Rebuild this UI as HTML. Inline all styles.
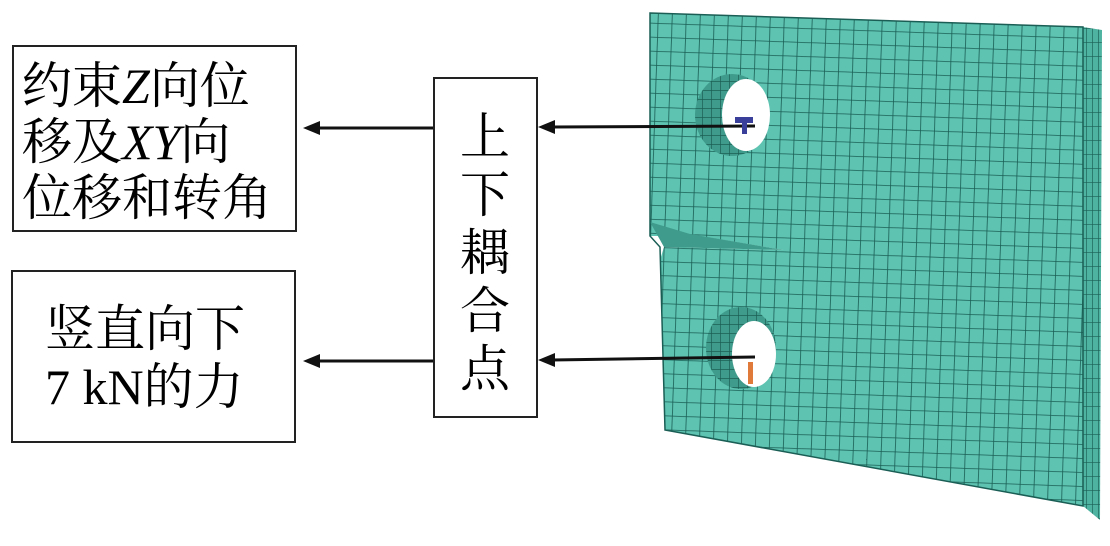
<!DOCTYPE html>
<html><head><meta charset="utf-8"><style>
body{margin:0;background:#fff;width:1110px;height:546px;overflow:hidden;position:relative;font-family:"Liberation Serif","Noto Serif CJK SC",serif;}
.box{position:absolute;border:2px solid #222;box-sizing:border-box;background:#fff;color:#111;}
.t{position:absolute;white-space:nowrap;}
</style></head><body>
<div class="box" style="left:12px;top:45px;width:285px;height:187px;"></div>
<div class="t" style="left:22px;top:58px;font-size:50px;line-height:56px;">约束<i>Z</i>向位<br>移及<i>XY</i>向<br>位移和转角</div>
<div class="box" style="left:11px;top:270px;width:285px;height:173px;"></div>
<div class="t" style="left:45px;top:300px;font-size:50px;line-height:58px;">竖直向下<br>7 kN的力</div>
<div class="box" style="left:433px;top:77px;width:105px;height:341px;"></div>
<div class="t" style="left:460px;top:108px;font-size:50px;line-height:58px;width:52px;white-space:normal;">上下耦合点</div>
<svg width="1110" height="546" style="position:absolute;left:0;top:0">
<defs>
<pattern id="m" width="14" height="14" patternUnits="userSpaceOnUse" patternTransform="rotate(2)">
<rect width="14" height="14" fill="#5ec3b1"/>
<path d="M0 0H14M0 0V14" stroke="#1a5e55" stroke-width="1.6"/>
</pattern>
<pattern id="f" width="9" height="9" patternUnits="userSpaceOnUse">
<rect width="9" height="9" fill="#3f9c8c"/>
<path d="M0 0H9M0 0V9" stroke="#1a5e55" stroke-width="1.4"/>
</pattern>
<pattern id="s" width="6" height="14" patternUnits="userSpaceOnUse">
<rect width="6" height="14" fill="#4fb3a2"/>
<path d="M0 0H6M0 0V14" stroke="#1a5e55" stroke-width="1.3"/>
</pattern>
</defs>
<polygon points="1083,27 1102,30 1100,520 1083,506" fill="url(#s)"/>
<polygon points="650,13 1083,27 1083,506 665,430 660,260 664,247 783,250 700,236 650,236" fill="url(#m)"/>
<polygon points="650,222 690,234 783,250 664,247" fill="#3f9c8c"/>
<polygon points="650,13 1083,27 1083,506 665,430 660,247 650,236" fill="none" stroke="#1a5e55" stroke-width="1.5"/>
<ellipse cx="732" cy="115" rx="37" ry="41" fill="url(#f)"/>
<ellipse cx="746" cy="115" rx="24" ry="36" fill="#fff"/>
<ellipse cx="741" cy="348" rx="35" ry="41" fill="url(#f)"/>
<ellipse cx="754" cy="354" rx="22" ry="33" fill="#fff"/>
<g stroke="#111" stroke-width="3">
<line x1="318" y1="128" x2="433" y2="128"/>
<line x1="318" y1="361" x2="433" y2="361"/>
<line x1="552" y1="127" x2="755" y2="126"/>
<line x1="552" y1="360" x2="755" y2="357"/>
</g>
<g fill="#111">
<polygon points="303,128 320,121 320,135"/>
<polygon points="303,361 320,354 320,368"/>
<polygon points="538,127 555,120 555,134"/>
<polygon points="538,360 555,353 555,367"/>
</g>
<rect x="735" y="117" width="18" height="6" fill="#3a3f9a"/>
<rect x="742" y="118" width="5" height="16" fill="#3a3f9a"/>
<rect x="748" y="362" width="5" height="22" fill="#e07a3a"/>
</svg>
</body></html>
